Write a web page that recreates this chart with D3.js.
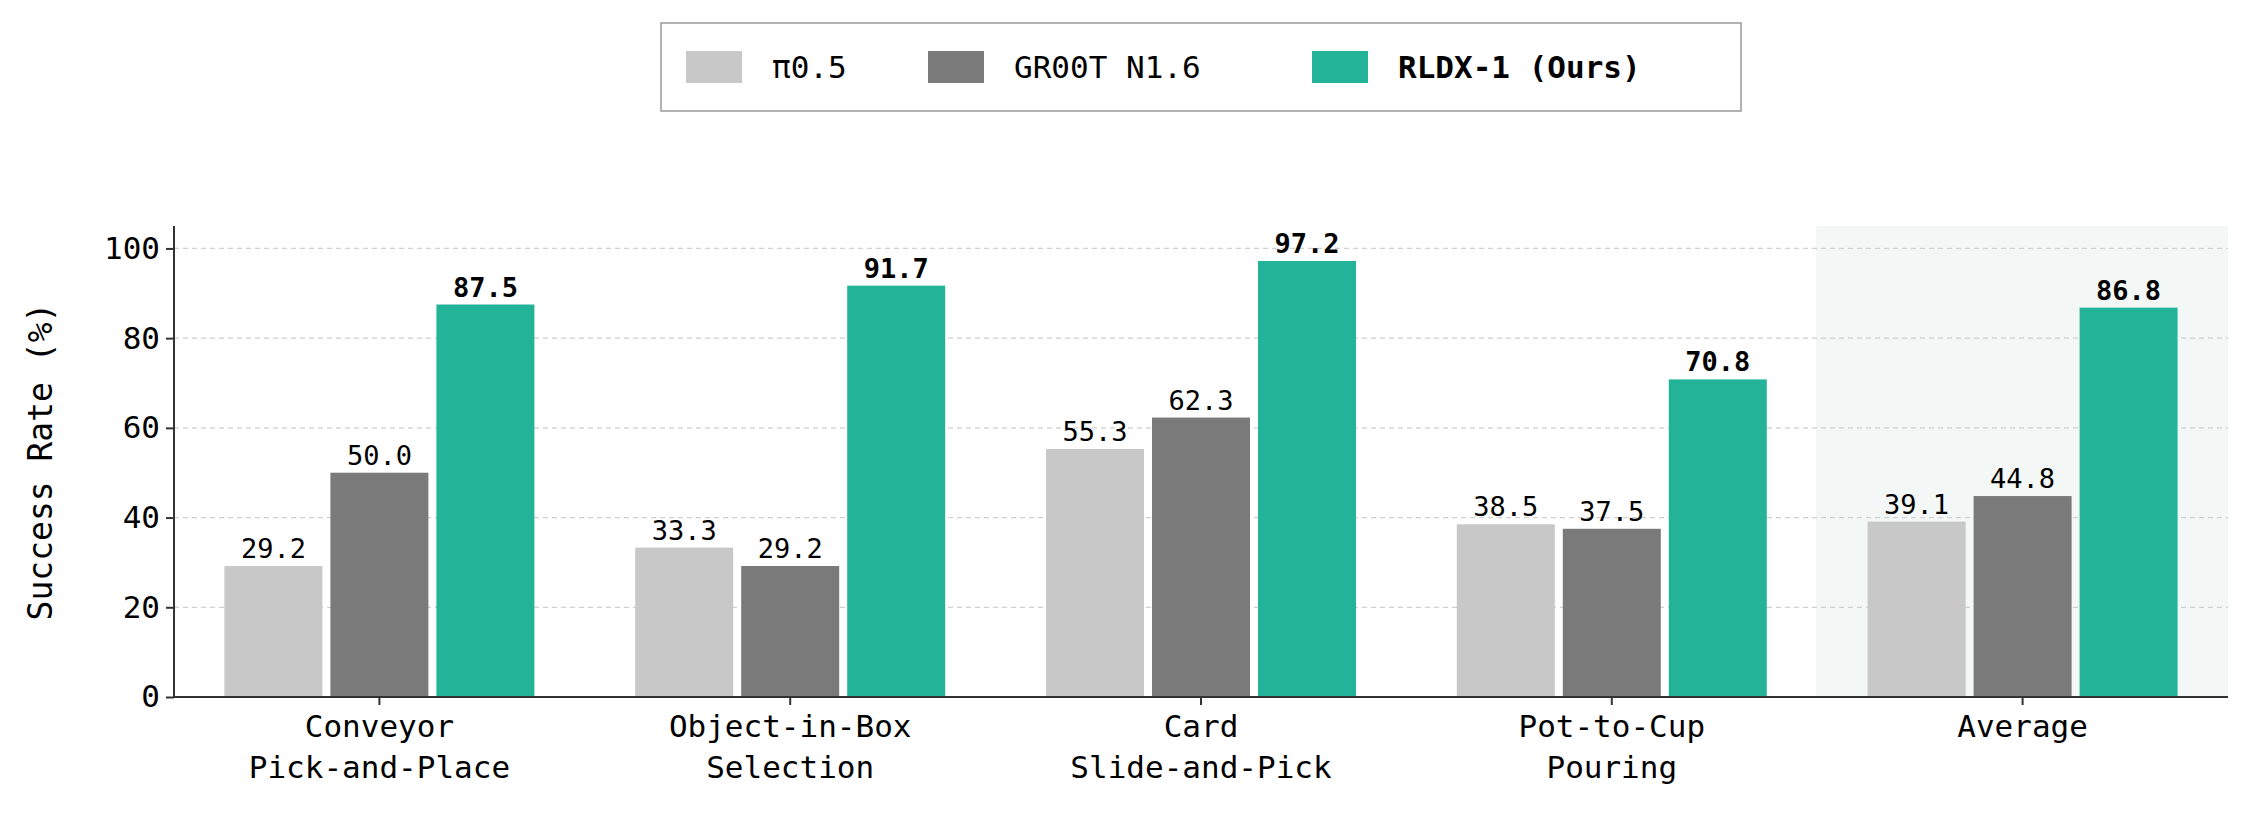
<!DOCTYPE html><html><head><meta charset="utf-8"><script src="https://cdn.jsdelivr.net/npm/d3@7"></script>
<style>body{margin:0;background:#fff}text{font-family:"DejaVu Sans Mono",monospace}</style></head><body><svg id="c" width="2241" height="814"></svg><script>
const categories=[["Conveyor","Pick-and-Place"],["Object-in-Box","Selection"],["Card","Slide-and-Pick"],["Pot-to-Cup","Pouring"],["Average"]];
const seriesNames=["π0.5","GR00T N1.6","RLDX-1 (Ours)"];
const pi05=[29.2,33.3,55.3,38.5,39.1];
const groot=[50.0,29.2,62.3,37.5,44.8];
const rldx=[87.5,91.7,97.2,70.8,86.8];
const yTicks=[0,20,40,60,80,100];
const colors=["#c8c8c8","#7a7a7a","#22b398"];
const series=[pi05,groot,rldx];
const svg=d3.select("#c");
const L=174,R=2228,T=226,B=697;
const x=d3.scaleBand().domain(d3.range(5)).range([L,R]).padding(0);
const y=d3.scaleLinear().domain([0,105]).range([B,T]);
// highlight
svg.append("rect").attr("x",1816).attr("y",T).attr("width",R-1816).attr("height",B-T).attr("fill","#f3f8f6");
// grid
svg.selectAll(".g").data(yTicks.slice(1)).enter().append("line").attr("x1",L).attr("x2",R).attr("y1",d=>y(d)).attr("y2",d=>y(d)).attr("stroke","#d0d0d0").attr("stroke-dasharray","5,4").attr("stroke-width",1.2);
const bw=98,off=106;
series.forEach((s,si)=>{
  s.forEach((v,i)=>{
    const cx=x(i)+x.bandwidth()/2+(si-1)*off;
    svg.append("rect").attr("x",cx-bw/2).attr("y",y(v)).attr("width",bw).attr("height",B-y(v)).attr("fill",colors[si]);
    svg.append("text").attr("x",cx).attr("y",y(v)-8).attr("text-anchor","middle").attr("font-size",27).attr("font-weight",si==2?"bold":"normal").text(v.toFixed(1));
  });
});
const ya=svg.append("g").attr("transform",`translate(${L},0)`).call(d3.axisLeft(y).tickValues(yTicks).tickSize(8).tickPadding(6));
ya.selectAll("text").attr("font-size",31).attr("fill","#000");
ya.select(".domain").attr("stroke","#333").attr("stroke-width",2).attr("d",`M0,${T}V${B}`);
ya.selectAll(".tick line").attr("stroke","#333").attr("stroke-width",2);
svg.append("line").attr("x1",L).attr("x2",R).attr("y1",B).attr("y2",B).attr("stroke","#333").attr("stroke-width",2);
categories.forEach((c,i)=>{
  const cx=x(i)+x.bandwidth()/2;
  svg.append("line").attr("x1",cx).attr("x2",cx).attr("y1",B).attr("y2",B+8).attr("stroke","#333").attr("stroke-width",2);
  c.forEach((t,j)=>svg.append("text").attr("x",cx).attr("y",737+j*41).attr("text-anchor","middle").attr("font-size",31).text(t));
});
svg.append("text").attr("transform",`translate(52,${(T+B)/2}) rotate(-90)`).attr("text-anchor","middle").attr("font-size",33).text("Success Rate (%)");
// legend
svg.append("rect").attr("x",661).attr("y",23).attr("width",1080).attr("height",88).attr("fill","#fff").attr("stroke","#999").attr("stroke-width",1.5);
const lx=[686,928,1312];
seriesNames.forEach((n,i)=>{
  svg.append("rect").attr("x",lx[i]).attr("y",51).attr("width",56).attr("height",32).attr("fill",colors[i]);
  svg.append("text").attr("x",lx[i]+86).attr("y",78).attr("font-size",31).attr("font-weight",i==2?"bold":"normal").text(n);
});
</script></body></html>
